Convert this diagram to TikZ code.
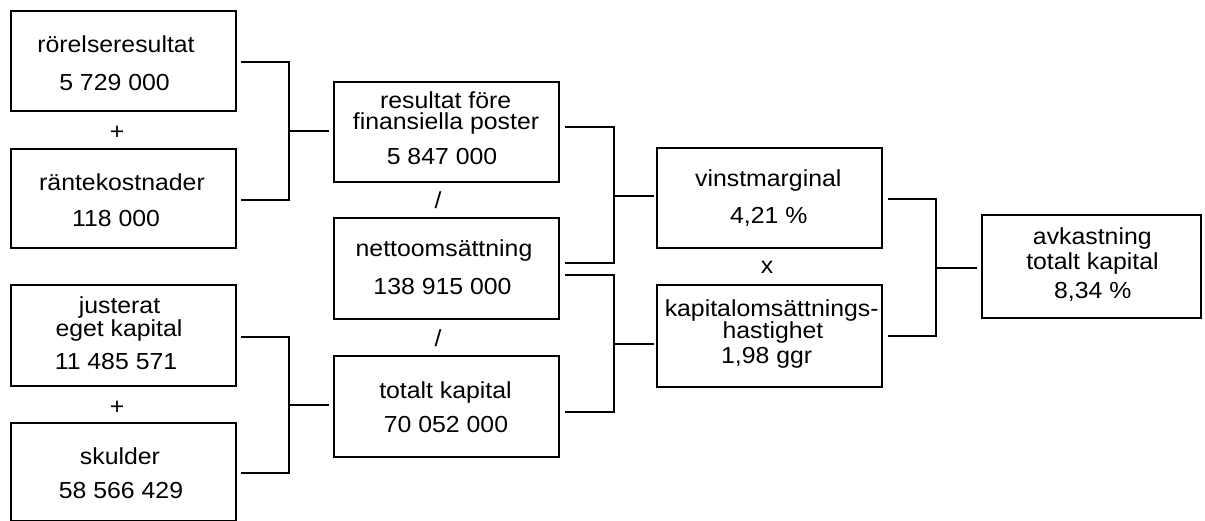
\documentclass[tikz,border=0pt]{standalone}
\usepackage{fontspec}
\setmainfont{Liberation Sans}[FakeStretch=1.07]
\usetikzlibrary{calc}
\begin{document}
\begin{tikzpicture}[x=1pt,y=-1pt,
  box/.style={draw=black, line width=2pt, fill=white, rectangle, inner sep=0pt, minimum width=#1},
  box/.default=225pt,
  txt/.style={anchor=base, inner sep=0pt, font=\fontsize{23.2}{27}\selectfont, text=black},
  conn/.style={draw=black, line width=2pt}
]
\useasboundingbox (0,0) rectangle (1205,521);
\fill[white] (0,0) rectangle (1205,521);

% column 1
\node[box, minimum height=100pt] (b1) at (123.5,61) {};
\node[box, minimum height=99pt] (b2) at (123.5,198.5) {};
\node[box, minimum height=101pt] (b3) at (123.5,335.5) {};
\node[box, minimum height=98pt] (b4) at (123.5,472) {};
% column 2
\node[box, minimum height=100pt] (A) at (446.5,132) {};
\node[box, minimum height=101pt] (B) at (446.5,268.5) {};
\node[box, minimum height=101pt] (C) at (446.5,406.5) {};
% column 3
\node[box, minimum height=100pt] (V) at (769.5,198) {};
\node[box, minimum height=102pt] (K) at (769.5,336) {};
% column 4
\node[box=219pt, minimum height=103pt] (R) at (1091.5,266.5) {};

% texts
\node[txt] (t1a) at (116,53) {rörelseresultat};
\node[txt] (t1b) at (114.5,91) {5 729 000};
\node[txt] (t2a) at (122,191) {räntekostnader};
\node[txt] (t2b) at (116,227) {118 000};
\node[txt] (t3a) at (119.5,314) {justerat};
\node[txt] (t3b) at (119,337) {eget kapital};
\node[txt] (t3c) at (116,370) {11 485 571};
\node[txt] (t4a) at (120,464) {skulder};
\node[txt] (t4b) at (121,498) {58 566 429};

\node[txt] (tAa) at (445.7,109) {resultat före};
\node[txt] (tAb) at (446,130) {finansiella poster};
\node[txt] (tAc) at (442,165) {5 847 000};
\node[txt] (tBa) at (444,257) {nettoomsättning};
\node[txt] (tBb) at (442.5,295) {138 915 000};
\node[txt] (tCa) at (445.5,398) {totalt kapital};
\node[txt] (tCb) at (446,432) {70 052 000};

\node[txt] (tVa) at (768.3,187) {vinstmarginal};
\node[txt] (tVb) at (768.7,224) {4,21 \%};
\node[txt] (tKa) at (771.7,317) {kapitalomsättnings-};
\node[txt] (tKb) at (773,339) {hastighet};
\node[txt] (tKc) at (766.7,363) {1,98 ggr};

\node[txt] (tRa) at (1092.3,245) {avkastning};
\node[txt] (tRb) at (1092.5,270) {totalt kapital};
\node[txt] (tRc) at (1092.8,299) {8,34 \%};

% operators
\node[txt] (op1) at (117,139.5) {+};
\node[txt] (op2) at (117,414) {+};
\node[txt] (op3) at (438,208.5) {/};
\node[txt] (op4) at (438,346) {/};
\node[txt] (op5) at (767,273.5) {x};

% junctions
\coordinate (j1) at (289,131);
\coordinate (j2) at (289,405);
\coordinate (j3) at (614,196);
\coordinate (j4) at (614,344);
\coordinate (j5) at (936,268);

% connectors
\draw[conn] ($(b1.east)+(4,1)$) -| (j1) |- ($(b2.east)+(4,1.5)$);
\draw[conn, shorten >=4pt] (j1) -- (j1 -| A.west);
\draw[conn] ($(b3.east)+(4,1.5)$) -| (j2) |- ($(b4.east)+(4,1)$);
\draw[conn, shorten >=4pt] (j2) -- (j2 -| C.west);

\draw[conn] ($(A.east)+(5,-5)$) -| (j3) |- ($(B.east)+(5,-5.5)$);
\draw[conn, shorten >=2pt] (j3) -- (j3 -| V.west);
\draw[conn] ($(B.east)+(5,6.5)$) -| (j4) |- ($(C.east)+(5,5.5)$);
\draw[conn, shorten >=2pt] (j4) -- (j4 -| K.west);

\draw[conn] ($(V.east)+(5,1)$) -| (j5) |- ($(K.east)+(5,0)$);
\draw[conn, shorten >=4pt] (j5) -- (j5 -| R.west);
\end{tikzpicture}
\end{document}
